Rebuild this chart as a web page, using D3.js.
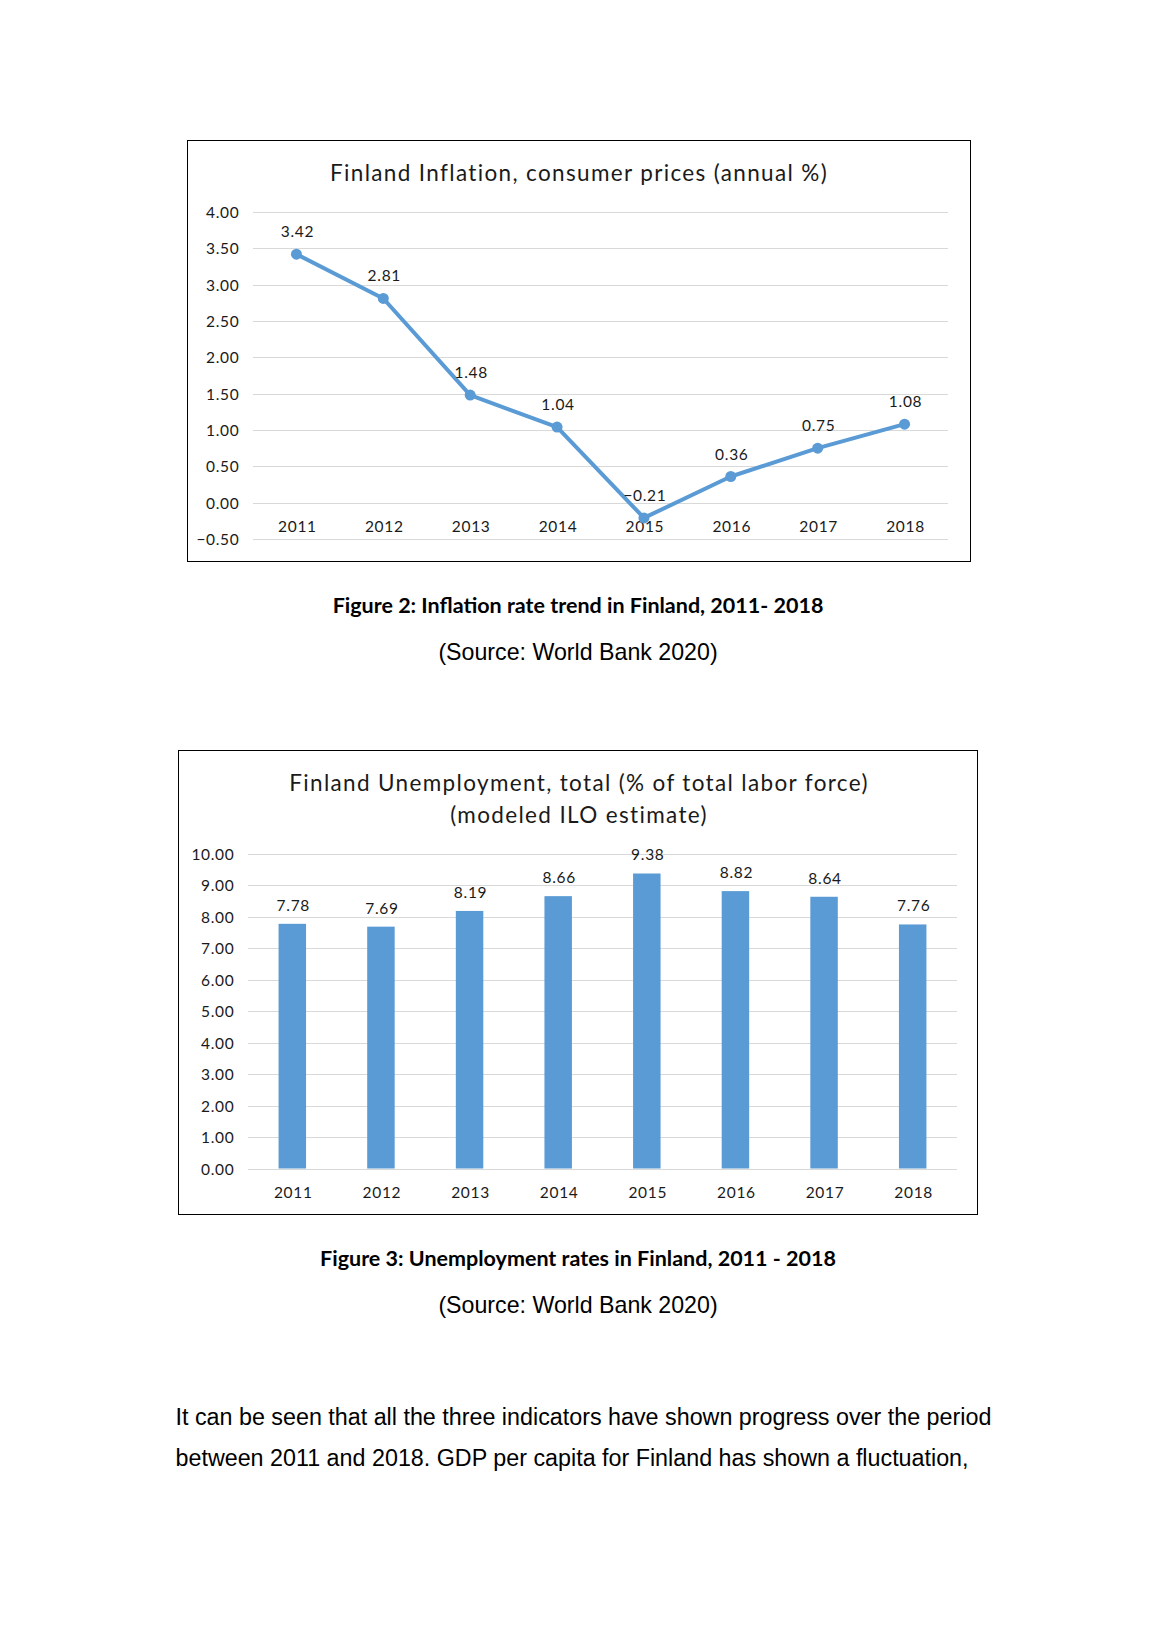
<!DOCTYPE html>
<html><head><meta charset="utf-8">
<script src="https://cdn.jsdelivr.net/npm/d3@7"></script>
<style>
html,body{margin:0;padding:0;background:#fff;}
svg{display:block;}
</style></head>
<body>
<svg id="page" width="1158" height="1638"></svg>
<script>
const years = ["2011","2012","2013","2014","2015","2016","2017","2018"];
const inflation = [3.42, 2.81, 1.48, 1.04, -0.21, 0.36, 0.75, 1.08];
const unemployment = [7.78, 7.69, 8.19, 8.66, 9.38, 8.82, 8.64, 7.76];
const inflationTicks = [-0.5, 0, 0.5, 1, 1.5, 2, 2.5, 3, 3.5, 4];
const unemploymentTicks = [0,1,2,3,4,5,6,7,8,9,10];
const chart1Title = "Finland Inflation, consumer prices (annual %)";
const chart2Title = ["Finland Unemployment, total (% of total labor force)", "(modeled ILO estimate)"];
const captions = ["Figure 2: Inflation rate trend in Finland, 2011- 2018", "Figure 3: Unemployment rates in Finland, 2011 - 2018"];
const source = "(Source: World Bank 2020)";
const paragraph = ["It can be seen that all the three indicators have shown progress over the period",
                   "between 2011 and 2018. GDP per capita for Finland has shown a fluctuation,"];

const BLUE = "#5B9BD5", GRID = "#D9D9D9", TICK = "#1a1a1a", LABEL = "#1a1a1a";
const CF = "Lato, 'Open Sans', sans-serif";
const AF = "'Liberation Sans', Arial, sans-serif";
const fmt = d3.format(".2f");
const svg = d3.select("#page");
svg.append("rect").attr("width",1158).attr("height",1638).attr("fill","#fff");

function smallText(sel){
  return sel.attr("font-family",CF).attr("font-size",15.5).attr("letter-spacing",0.7).attr("dominant-baseline","central");
}

// ---------- Chart 1: line ----------
{
  const g = svg.append("g");
  g.append("rect").attr("x",187.5).attr("y",140.5).attr("width",783).attr("height",421)
    .attr("fill","#fff").attr("stroke","#000").attr("stroke-width",1);
  g.append("text").attr("x",579).attr("y",172).attr("text-anchor","middle").attr("dominant-baseline","central")
    .attr("font-family",CF).attr("font-size",22.5).attr("letter-spacing",1.35).attr("fill",LABEL).text(chart1Title);
  const x = d3.scaleBand().domain(years).range([253,948]);
  const y = d3.scaleLinear().domain([-0.5,4]).range([539,212]);
  g.append("g").selectAll("line").data(inflationTicks).join("line")
    .attr("x1",253).attr("x2",948).attr("y1",d=>Math.round(y(d))+0.5).attr("y2",d=>Math.round(y(d))+0.5)
    .attr("stroke",GRID).attr("stroke-width",1);
  g.append("g").selectAll("text").data(inflationTicks).join("text")
    .call(smallText).attr("x",239.5).attr("y",d=>y(d)).attr("text-anchor","end")
    .attr("fill",TICK).text(d=>fmt(d));
  g.append("g").selectAll("text").data(years).join("text")
    .call(smallText).attr("x",d=>x(d)+x.bandwidth()/2+1).attr("y",y(0)+23).attr("text-anchor","middle")
    .attr("fill",TICK).text(d=>d);
  const pts = years.map((yr,i)=>({yr, v:inflation[i]}));
  const line = d3.line().x(d=>x(d.yr)+x.bandwidth()/2).y(d=>y(d.v));
  g.append("path").datum(pts).attr("d",line).attr("fill","none").attr("stroke",BLUE)
    .attr("stroke-width",4).attr("stroke-linejoin","round").attr("stroke-linecap","round");
  g.append("g").selectAll("circle").data(pts).join("circle")
    .attr("cx",d=>x(d.yr)+x.bandwidth()/2).attr("cy",d=>y(d.v)).attr("r",5.5).attr("fill",BLUE);
  g.append("g").selectAll("text").data(pts).join("text")
    .call(smallText).attr("x",d=>x(d.yr)+x.bandwidth()/2+1).attr("y",d=>y(d.v)-23).attr("text-anchor","middle")
    .attr("fill",LABEL).text(d=>fmt(d.v));
}

// ---------- Chart 2: bars ----------
{
  const g = svg.append("g");
  g.append("rect").attr("x",178.5).attr("y",750.5).attr("width",799).attr("height",464)
    .attr("fill","#fff").attr("stroke","#000").attr("stroke-width",1);
  chart2Title.forEach((t,i)=>{
    g.append("text").attr("x",579).attr("y",782+i*32.5).attr("text-anchor","middle").attr("dominant-baseline","central")
      .attr("font-family",CF).attr("font-size",22.5).attr("letter-spacing",1.35).attr("fill",LABEL).text(t);
  });
  const x = d3.scaleBand().domain(years).range([248,957]).paddingInner(0.69).paddingOuter(0.345);
  const y = d3.scaleLinear().domain([0,10]).range([1168.5,854]);
  g.append("g").selectAll("line").data(unemploymentTicks).join("line")
    .attr("x1",248).attr("x2",957).attr("y1",d=>Math.round(y(d))+0.5).attr("y2",d=>Math.round(y(d))+0.5)
    .attr("stroke",GRID).attr("stroke-width",1);
  g.append("g").selectAll("text").data(unemploymentTicks).join("text")
    .call(smallText).attr("x",234.5).attr("y",d=>y(d)).attr("text-anchor","end")
    .attr("fill",TICK).text(d=>fmt(d));
  const pts = years.map((yr,i)=>({yr, v:unemployment[i]}));
  g.append("g").selectAll("rect").data(pts).join("rect")
    .attr("x",d=>x(d.yr)).attr("width",x.bandwidth()).attr("y",d=>y(d.v)).attr("height",d=>y(0)-y(d.v))
    .attr("fill",BLUE);
  g.append("g").selectAll("text").data(pts).join("text")
    .call(smallText).attr("x",d=>x(d.yr)+x.bandwidth()/2+1).attr("y",d=>y(d.v)-19).attr("text-anchor","middle")
    .attr("fill",LABEL).text(d=>fmt(d.v));
  g.append("g").selectAll("text.xl").data(years).join("text")
    .call(smallText).attr("x",d=>x(d)+x.bandwidth()/2+1).attr("y",1191.5).attr("text-anchor","middle")
    .attr("fill",TICK).text(d=>d);
}

// ---------- Captions & text ----------
const capY = [605, 1258], srcY = [651.5, 1305];
captions.forEach((c,i)=>{
  svg.append("text").attr("x",578).attr("y",capY[i]).attr("text-anchor","middle").attr("dominant-baseline","central")
    .attr("font-family",CF).attr("font-weight","bold").attr("font-size",21.5).attr("fill","#000").text(c);
  svg.append("text").attr("x",578).attr("y",srcY[i]).attr("text-anchor","middle").attr("dominant-baseline","central")
    .attr("font-family",AF).attr("font-size",23.2).attr("fill","#000").text(source);
});
paragraph.forEach((t,i)=>{
  svg.append("text").attr("x",175.5).attr("y",1417+i*40.6).attr("dominant-baseline","central")
    .attr("font-family",AF).attr("font-size",23.3).attr("fill","#000").text(t);
});
</script>
</body></html>
